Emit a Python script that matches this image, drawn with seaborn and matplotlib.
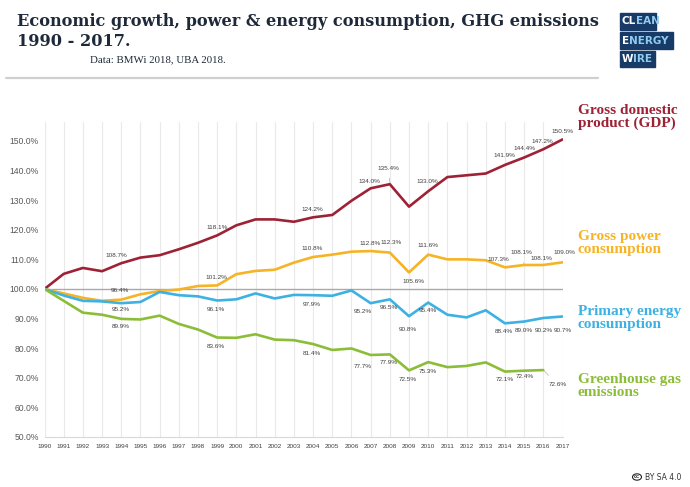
import numpy as np
import pandas as pd
import matplotlib.pyplot as plt
import seaborn as sns
from matplotlib.patches import Rectangle, Circle
from matplotlib.lines import Line2D

years = list(range(1990, 2018))
gdp = [100.0, 105.1, 107.1, 106.0, 108.7, 110.6, 111.4, 113.4, 115.6, 118.1,
       121.5, 123.5, 123.5, 122.7, 124.2, 125.0, 129.8, 134.0, 135.4, 127.8,
       133.0, 137.8, 138.4, 139.0, 141.9, 144.4, 147.2, 150.5]
power = [100.0, 98.5, 97.0, 96.0, 96.4, 98.2, 99.3, 99.8, 101.0, 101.2,
         105.0, 106.1, 106.5, 108.9, 110.8, 111.6, 112.6, 112.8, 112.3, 105.6,
         111.6, 110.0, 110.0, 109.7, 107.3, 108.1, 108.1, 109.0]
primary = [100.0, 97.8, 96.0, 95.8, 95.2, 95.6, 99.0, 97.9, 97.5, 96.1,
           96.5, 98.5, 96.8, 98.0, 97.9, 97.7, 99.5, 95.2, 96.5, 90.8,
           95.4, 91.3, 90.4, 92.8, 88.4, 89.0, 90.2, 90.7]
ghg = [100.0, 96.0, 92.0, 91.3, 89.9, 89.7, 91.0, 88.2, 86.3, 83.6,
       83.5, 84.7, 82.9, 82.7, 81.4, 79.4, 79.9, 77.7, 77.9, 72.5,
       75.3, 73.6, 74.0, 75.2, 72.1, 72.4, 72.6, np.nan]

series_names = ["Gross domestic product (GDP)", "Gross power consumption",
                "Primary energy consumption", "Greenhouse gas emissions"]
colors = ["#9d2235", "#f6b325", "#3cb1e2", "#8cbd38"]
y_ticks = [50, 60, 70, 80, 90, 100, 110, 120, 130, 140, 150]

# label offsets in pixels (dx, dy) for each labelled year
gdp_lab = {1994: (-5, 8), 1999: (0, 8), 2004: (-1, 8), 2007: (-1, 7), 2008: (-1, 16),
           2010: (-1, 10), 2014: (-1, 9), 2015: (0, 9), 2016: (-1, 8), 2017: (0, 8)}
power_lab = {1994: (-1, 9), 1999: (-1, 8), 2004: (-1, 9), 2007: (-1, 8), 2008: (1, 10),
             2009: (4, -9), 2010: (0, 9), 2014: (-7, 8), 2015: (-3, 12), 2016: (-2, 6),
             2017: (2, 10)}
primary_lab = {1994: (0, -6), 1999: (-1, -9), 2004: (-1, -9), 2007: (-8, -8), 2008: (-1, -8),
               2009: (-1, -13), 2010: (0, -8), 2014: (-1, -8), 2015: (0, -9), 2016: (0, -13),
               2017: (0, -14)}
ghg_lab = {1994: (0, -8), 1999: (-1, -9), 2004: (-1, -9), 2007: (-8, -12), 2008: (-1, -8),
           2009: (-1, -9), 2010: (0, -9), 2014: (0, -8), 2015: (1, -6), 2016: (14, -14)}
leaders = {(0, 2008), (1, 2008), (1, 2015), (3, 2016)}

df = pd.DataFrame({"year": years * 4,
                   "value": gdp + power + primary + ghg,
                   "series": sum([[n] * len(years) for n in series_names], [])})

sns.set_style("white")
fig = plt.figure(figsize=(6.9, 4.87), dpi=100)
ax = fig.add_axes([44.5 / 690, 50 / 487, 518 / 690, 315 / 487])

for x in years:
    ax.axvline(x, color="#e9e9e9", lw=0.8, zorder=0)
ax.axhline(100, color="#a9a9a9", lw=1.0, zorder=1)

sns.lineplot(data=df, x="year", y="value", hue="series", palette=colors,
             linewidth=1.9, legend=False, ax=ax, zorder=3)

ax.set_xlim(1990, 2017)
ax.set_ylim(50, 156.4)
ax.set_xticks(years)
ax.set_xticklabels([str(y) for y in years], fontsize=4.6, color="#404040",
                   family="Liberation Sans")
ax.set_yticks(y_ticks)
ax.set_yticklabels([f"{v:.1f}%" for v in y_ticks], fontsize=6.2, color="#595959",
                   family="Liberation Sans")
ax.tick_params(length=0, pad=4)
ax.tick_params(axis="x", pad=5)
ax.set_xlabel("")
ax.set_ylabel("")
for s in ["top", "right", "left"]:
    ax.spines[s].set_visible(False)
ax.spines["bottom"].set_color("#d9d9d9")
ax.spines["bottom"].set_linewidth(0.8)

all_vals = [gdp, power, primary, ghg]
all_labs = [gdp_lab, power_lab, primary_lab, ghg_lab]
for i, (vals, labs) in enumerate(zip(all_vals, all_labs)):
    for yr, (dx, dy) in labs.items():
        v = vals[years.index(yr)]
        kw = {}
        if (i, yr) in leaders:
            kw["arrowprops"] = dict(arrowstyle="-", color="#bfbfbf", lw=0.6,
                                    shrinkA=3, shrinkB=1)
        ax.annotate(f"{v:.1f}%", (yr, v), xytext=(dx, dy), textcoords="offset pixels",
                    ha="center", va="center", fontsize=4.6, color="#404040",
                    family="Liberation Sans", zorder=5, **kw)

# series names on the right
name_lines = ["Gross domestic\nproduct (GDP)", "Gross power\nconsumption",
              "Primary energy\nconsumption", "Greenhouse gas\nemissions"]
name_y = [117, 243, 318, 386]
for txt, c, yy in zip(name_lines, colors, name_y):
    fig.text(578 / 690, 1 - yy / 487, txt, color=c, fontsize=11, fontweight="bold",
             family="Liberation Serif", ha="left", va="center", linespacing=1.0)

# header
fig.text(17 / 690, 1 - 22 / 487, "Economic growth, power & energy consumption, GHG emissions",
         fontsize=11.6, fontweight="bold", family="DejaVu Serif", color="#1e2a3a",
         ha="left", va="center")
fig.text(17 / 690, 1 - 41 / 487, "1990 - 2017.", fontsize=11.6, fontweight="bold",
         family="DejaVu Serif", color="#1e2a3a", ha="left", va="center")
fig.text(90 / 690, 1 - 60 / 487, "Data: BMWi 2018, UBA 2018.", fontsize=7.8,
         family="Liberation Serif", color="#1e2a3a", ha="left", va="center")
fig.add_artist(Line2D([6 / 690, 598 / 690], [1 - 77.5 / 487, 1 - 77.5 / 487],
                      color="#cfcfcf", lw=1.6))

# logo
navy = "#183a67"
boxes = [(620, 13, 36, 17, "CL", "EAN"), (620, 32, 53, 17, "E", "NERGY"),
         (620, 51, 35, 16, "W", "IRE")]
fig.canvas.draw()
rend = fig.canvas.get_renderer()
for bx, by, bw, bh, a, b in boxes:
    fig.add_artist(Rectangle((bx / 690, 1 - (by + bh) / 487), bw / 690, bh / 487,
                             transform=fig.transFigure, color=navy))
    t = fig.text((bx + 2) / 690, 1 - (by + bh / 2) / 487, a, color="white", fontsize=7.5,
                 fontweight="bold", family="Liberation Sans Narrow", ha="left", va="center")
    w = t.get_window_extent(rend).width
    fig.text((bx + 2 + w) / 690, 1 - (by + bh / 2) / 487, b, color="#8fcdf0", fontsize=7.5,
             fontweight="bold", family="Liberation Sans Narrow", ha="left", va="center")

# licence badge
fig.add_artist(Circle((637 / 690, 1 - 477 / 487), 4.5 / 690, transform=fig.transFigure,
                      facecolor="white", edgecolor="#222222", lw=0.8))
fig.text(637 / 690, 1 - 477 / 487, "cc", fontsize=3.8, fontweight="bold", color="#222222",
         ha="center", va="center", family="Liberation Sans")
fig.text(645 / 690, 1 - 477 / 487, "BY SA 4.0", fontsize=5.5, color="#333333",
         ha="left", va="center", family="Liberation Sans Narrow")

fig.savefig("out.png", dpi=100, facecolor="white")
